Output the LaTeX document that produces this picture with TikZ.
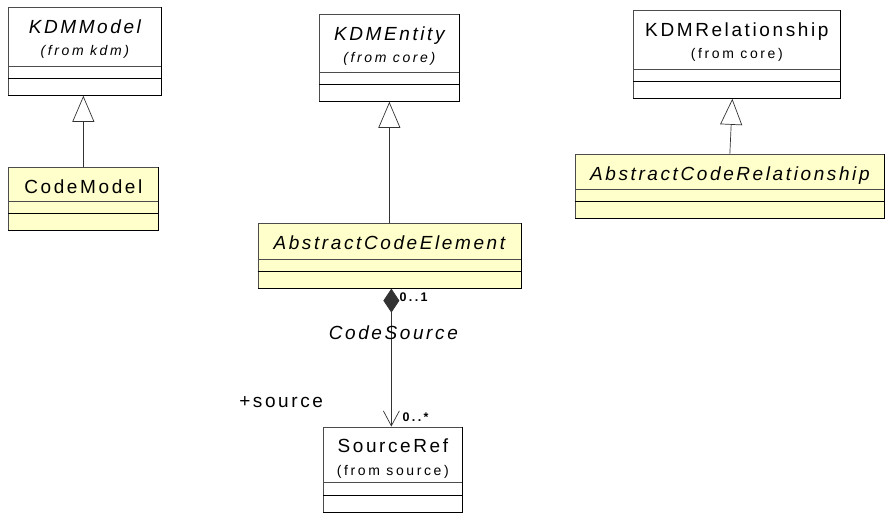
\documentclass[tikz,border=0pt]{standalone}
\usepackage{fontspec}
\usepackage{tikz}
\usetikzlibrary{positioning,shapes.multipart,arrows.meta}
\newfontfamily\umlfont[LetterSpace=13.7]{Liberation Sans}
\newfontfamily\umlsmall[LetterSpace=18.5]{Liberation Sans}
\definecolor{classyellow}{RGB}{255,255,204}
\newcommand{\classname}[1]{{\umlfont\fontsize{19}{22.5}\selectfont#1}}
\newcommand{\pkgname}[1]{{\umlsmall\fontsize{14}{22.5}\selectfont#1}}
\newcommand{\classparts}[3]{\parbox[c][#2][t]{#1}{\centering\baselineskip=22.5pt\rule{0pt}{25.5pt}#3}\nodepart{two}\parbox[c][12pt]{#1}{}\nodepart{three}\parbox[c][16pt]{#1}{}}

\begin{document}
\begin{tikzpicture}[x=1pt, y=-1pt, class/.style = {rectangle split, rectangle split parts=3, draw=black!70, line width=0.7pt, inner sep=0pt, fill=white}, yellowclass/.style = {class, fill=classyellow}, shadowline/.style = {line width=1.4pt, black}, link/.style = {draw=black!80, line width=0.7pt}, inherit/.style = {link, -{Triangle[open, length=26pt, width=22pt]}}, compose/.style = {link, {Diamond[length=24pt, width=16pt]}-{Straight Barb[length=15pt, width=16pt]}}, mult/.style = {inner sep=0pt, font=\umlsmall\bfseries\fontsize{12.5}{14}\selectfont}, role/.style = {inner sep=0pt, font=\umlfont\fontsize{19}{20}\selectfont}, assoc/.style = {inner sep=0pt, font=\umlfont\itshape\fontsize{19}{20}\selectfont}]
	\useasboundingbox (0,0) rectangle (886,516);
	% left column
	\node[class, anchor=north west] (kdmmodel) at (8,7) {\classparts{153pt}{58pt}{\classname{\itshape KDMModel}\\\pkgname{\itshape (from kdm)}}};
	\node[yellowclass, below=71pt of kdmmodel.south west, anchor=north west] (codemodel) {\classparts{150pt}{33pt}{\classname{CodeModel}}};
	% middle column
	\node[class, anchor=north west] (kdmentity) at (319,14) {\classparts{140pt}{57pt}{\classname{\itshape KDMEntity}\\\pkgname{\itshape (from core)}}};
	\node[yellowclass, below=121pt of kdmentity] (ace) {\classparts{263pt}{35pt}{\classname{\itshape AbstractCodeElement}}};
	\node[class, below=138pt of ace, xshift=3.5pt] (sourceref) {\classparts{139pt}{55pt}{\classname{SourceRef}\\\pkgname{(from source)}}};
	% right column
	\node[class, anchor=north west] (kdmrel) at (633,10) {\classparts{207pt}{58pt}{\classname{KDMRelationship}\\\pkgname{(from core)}}};
	\node[yellowclass, below=55pt of kdmrel, xshift=-7pt] (acr) {\classparts{309pt}{34pt}{\classname{\itshape AbstractCodeRelationship}}};
	\foreach \n in {kdmmodel,codemodel,kdmentity,ace,sourceref,kdmrel,acr}{
		\draw[shadowline] (\n.north east) -- (\n.south east) -- (\n.south west);
		\draw[shadowline] (\n.two split west) -- (\n.two split east);
	}
	% connectors
	\draw[inherit] (codemodel.north) -- (codemodel.north |- kdmmodel.south);
	\draw[inherit] (ace.north) -- (kdmentity.south);
	\draw[inherit] (acr.north) -- ([xshift=-4.5pt]kdmrel.south);
	\draw[compose] ([xshift=2pt]ace.south) -- node[mult, pos=0.065, anchor=west, xshift=8pt] (mulace) {0..1} node[assoc, pos=0.32, xshift=2pt] (codesource) {CodeSource} node[role, pos=0.82, anchor=east, xshift=-68pt] (rolesource) {+source} node[mult, pos=0.935, anchor=west, xshift=11pt] (mulsource) {0..*} ([xshift=2pt]ace.south |- sourceref.north);
\end{tikzpicture}
\end{document}
